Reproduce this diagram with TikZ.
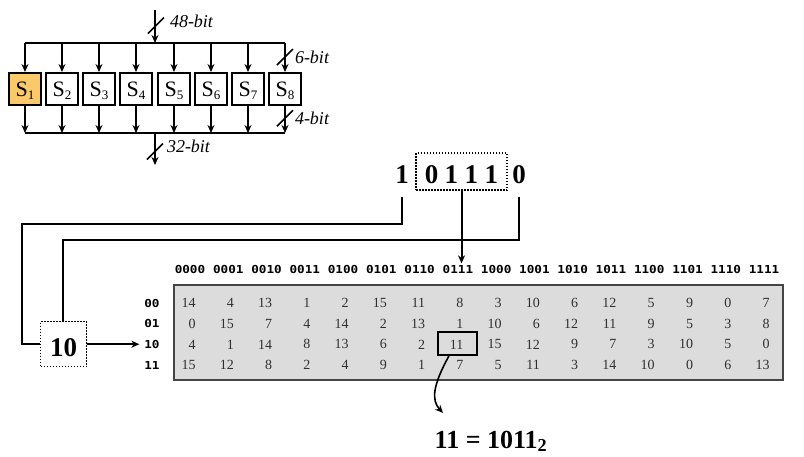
\documentclass[tikz,border=0pt]{standalone}
\usepackage{fontspec}
\setmainfont{Liberation Serif}
\newfontfamily\codefont{DejaVu Sans Mono}[FakeStretch=1.15]
\usetikzlibrary{arrows.meta}
\definecolor{sone}{HTML}{F9C96B}
\definecolor{tablefill}{HTML}{DCDCDC}
\definecolor{tableline}{HTML}{454545}
\definecolor{numtext}{HTML}{303030}
\newcommand{\Sname}[1]{S\raisebox{-3pt}{\fontsize{13}{13}\selectfont #1}}

\begin{document}
\begin{tikzpicture}[
    x=1pt, y=-1pt,
    line width=2pt,
    arrow/.style={-{Stealth[length=8pt,width=7pt]}},
    sbox/.style={draw, minimum width=32, minimum height=32, inner sep=0pt, text height=15pt, text depth=0pt, font=\fontsize{22}{22}\selectfont},
    cut/.style={line width=1.5pt},
    buslabel/.style={anchor=west, inner sep=1pt, font=\itshape\fontsize{18}{18}\selectfont},
    bit/.style={minimum height=48, inner sep=0pt, text height=24pt, text depth=0pt, font=\bfseries\fontsize{27}{27}\selectfont},
    bitbox/.style={bit, draw, line width=1.5pt, dash pattern=on 1.5pt off 1.5pt, minimum height=37},
    colhead/.style={inner sep=1pt, font=\codefont\bfseries\fontsize{11}{12}\selectfont},
    rowhead/.style={colhead, inner sep=4pt},
    num/.style={anchor=east, inner sep=0pt, text=numtext, font=\fontsize{14}{14}\selectfont}
]
\useasboundingbox (0,0) rectangle (804,456);

% S-boxes (top)
\node[sbox, fill=sone] (s1) at (25,89) {\Sname{1}};
\foreach \i/\x in {2/62,3/99,4/136,5/174,6/211,7/248,8/285}
    \node[sbox] (s\i) at (\x,89) {\Sname{\i}};

\coordinate (in) at (155,10);
\coordinate (inbus) at (155,43);
\coordinate (outbus) at (155,133);
\coordinate (out) at (155,165);

\draw (s1.north |- inbus) -- (s8.north |- inbus);
\draw[arrow] (in) -- (inbus);
\foreach \i in {1,...,8}
    \draw[arrow] (s\i.north |- inbus) -- (s\i.north);
\foreach \i in {1,...,8}
    \draw[arrow] (s\i.south) -- (s\i.south |- outbus);
\draw (s1.south |- outbus) -- (s8.south |- outbus);
\draw[arrow] (outbus) -- (out);

% bus widths
\draw[cut] (156,25.5) ++(-8,8) -- ++(16,-16);
\draw[cut] (285,57) ++(-8,8) -- ++(16,-16);
\draw[cut] (285,118.3) ++(-8,8) -- ++(16,-16);
\draw[cut] (155,151.5) ++(-8,8) -- ++(16,-16);
\node[buslabel] (l48) at (168,21) {48-bit};
\node[buslabel] (l6) at (293,57) {6-bit};
\node[buslabel] (l4) at (293,118.3) {4-bit};
\node[buslabel] (l32) at (165,146) {32-bit};

% input bits
\node[bit] (b1) at (402,171.5) {1};
\node[bitbox, minimum width=91] (mid) at (461.5,171.5) {0\kern6.5pt 1\kern6.5pt 1\kern6.5pt 1};
\node[bit] (b6) at (519,171.5) {0};
\node[bitbox, minimum width=46, minimum height=45] (rowsel) at (63.7,344.2) {10};

% S-box table
\node[draw=tableline, fill=tablefill, line width=2pt, minimum width=609, minimum height=95, inner sep=0pt] (table) at (478.5,332.5) {};
\foreach \c [count=\i from 0] in {0000,0001,0010,0011,0100,0101,0110,0111,1000,1001,1010,1011,1100,1101,1110,1111}
    \node[colhead] (h\i) at (190+38.27*\i,269.5) {\c};
\foreach \r [count=\j from 0] in {00,01,10,11}
    \node[rowhead] (r\j) at (152,303+20.7*\j) {\r};
\foreach \row [count=\j from 0] in {
    {14,4,13,1,2,15,11,8,3,10,6,12,5,9,0,7},
    {0,15,7,4,14,2,13,1,10,6,12,11,9,5,3,8},
    {4,1,14,8,13,6,2,11,15,12,9,7,3,10,5,0},
    {15,12,8,2,4,9,1,7,5,11,3,14,10,0,6,13}}
    \foreach \v [count=\i from 0] in \row
        \node[num] (v\j-\i) at (196.5+38.27*\i,303+20.7*\j) {\v};
\node[draw, line width=2pt, minimum width=39, minimum height=23, inner sep=0pt] (hit) at (457.9,343.5) {};

% result
\node[inner sep=0pt, text height=18pt, text depth=0pt, font=\bfseries\fontsize{26}{26}\selectfont] (res) at (491,439) {11 = 1011\textsubscript{2}};
\coordinate (hitend) at (443,413);

% connections
\coordinate (c1) at (21.7,224);
\coordinate (c0) at (63.3,240);
\draw (b1.south) |- (c1) |- (rowsel.west);
\draw (b6.south) |- (c0) -- (c0 |- rowsel.north);
\draw[arrow] (mid.south) -- (mid.south |- h7.north);
\draw[arrow] (rowsel.east) -- (rowsel.east -| r2.west);
\draw[arrow, line width=1.6pt] ([xshift=-9pt]hit.south) .. controls (433,385) and (431,400) .. (hitend);

\end{tikzpicture}
\end{document}
